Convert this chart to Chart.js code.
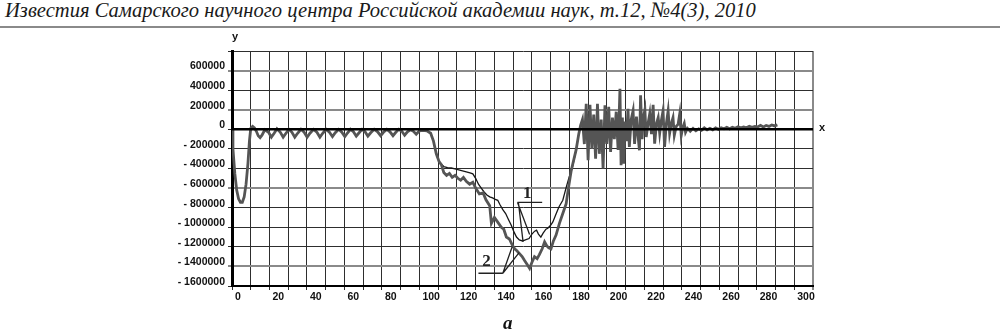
<!DOCTYPE html>
<html>
<head>
<meta charset="utf-8">
<script src="https://cdn.jsdelivr.net/npm/chart.js@4/dist/chart.umd.min.js"></script>
<style>
  html, body { margin: 0; padding: 0; background: #fff; }
  body { width: 1000px; height: 335px; position: relative; overflow: hidden; }
  #hdr { position: absolute; left: 5px; top: -3px; font-family: "Liberation Serif", serif; font-style: italic; font-size: 22px; color: #1a1a1a; white-space: nowrap; transform: scaleX(0.935); transform-origin: 0 0; }
  #rule { position: absolute; left: 0; top: 26px; width: 1000px; height: 2px; background: #8a8a8a; }
  #cap { position: absolute; left: 503px; top: 312px; font-family: "Liberation Serif", serif; font-style: italic; font-weight: bold; font-size: 19px; color: #111; }
  canvas { position: absolute; left: 0; top: 0; }
</style>
</head>
<body>
<div id="hdr">Известия Самарского научного центра Российской академии наук, т.12, №4(3), 2010</div>
<div id="rule"></div>
<canvas id="c" width="1000" height="335"></canvas>
<div id="cap">a</div>
<script>
// ---- data ----
const xTickLabels = [0, 20, 40, 60, 80, 100, 120, 140, 160, 180, 200, 220, 240, 260, 280, 300];
const yTickValues = [600000, 400000, 200000, 0, -200000, -400000, -600000, -800000, -1000000, -1200000, -1400000, -1600000];

// curve 1 (thin dark line)
const curve1X = [109, 110.5, 111.7, 113, 115, 117, 119, 121, 123, 125, 127, 128.5, 130, 131.5, 133, 134.5, 136, 137.5, 139, 140.5, 141.8, 143, 144.5, 146, 147.5, 149, 150.5, 151.8, 153.3, 155, 156.5, 158.5, 160, 161.5, 162.5, 163.5, 164.8, 166, 167.5, 168.5, 170, 171.2, 173, 174.5, 176.5, 178.5, 180, 181.5, 183.6, 185];
const curve1Y = [-250000, -330000, -355000, -380000, -390000, -395000, -405000, -415000, -425000, -435000, -445000, -455000, -500000, -560000, -600000, -640000, -670000, -690000, -700000, -715000, -725000, -770000, -820000, -860000, -920000, -980000, -1050000, -1100000, -1130000, -1140000, -1130000, -1115000, -1070000, -1040000, -1030000, -1070000, -1100000, -1060000, -1020000, -1010000, -980000, -946000, -860000, -790000, -724000, -580000, -480000, -400000, -214000, -50000];

// curve 2 (thick grey line)
const curve2X = [0, 0.5, 1.5, 2.5, 3.5, 4.5, 5.5, 6.5, 7.5, 8.5, 9.3, 10, 11, 12, 13, 14, 15, 16, 17.5,
  19.5, 21, 22.5, 24, 25.8, 27.3, 28.8, 30.4, 32, 33.5, 35, 36.8, 38.5, 40.1, 41.6, 43.5, 45.3, 46.9, 48.4, 50.2,
  52, 53.6, 55.1, 56.9, 58.6, 60.2, 61.7, 63.2, 64.8, 66.3, 67.8, 69.4, 71, 72.5, 74, 75.9, 77.7, 79.3, 80.8, 82.6,
  84.3, 85.9, 87.4, 89, 90.6, 92.1, 93.6, 95.2, 96.8, 98.3, 100, 102, 104, 106, 107.5, 109, 110.5, 111.7, 113,
  114.5, 116, 117.5, 119, 120.5, 122, 123.5, 125, 126.8, 128.5, 130, 132, 134, 135.5, 137.5, 138.4, 140, 141.5,
  143.7, 145, 146.4, 148, 149.5, 150.8, 152, 153.4, 154.8, 156.1, 157.5, 158.8, 160, 161.4, 162.8, 164, 165.5,
  166.8, 168, 169, 170.2, 171.5, 172.9, 174.7, 176.5, 178.3, 179.5, 181, 183.6, 185, 186, 187,
  188, 189, 190, 191, 192, 193, 194, 195, 196, 197, 198, 199, 200, 201, 202, 203, 204, 205, 206,
  207, 207.6, 208.3, 209, 209.7, 210.4, 211.3, 212, 213, 214, 214.8, 215.8, 216.6, 217.4, 218, 218.8, 219.5,
  220.3, 221, 222, 222.9, 223.8, 224.7, 225.5, 226.5, 227.4, 228.2, 229, 230, 230.8, 231.7, 232.7, 233.5,
  234.4, 235.3, 236, 237, 238, 238.9, 239.7, 240.5, 241.3, 242, 243, 244.5, 246, 247.5, 249, 250.5, 252,
  253.5, 255, 256.5, 258, 259.5, 261, 262.5, 264, 265.5, 267, 268.5, 270, 271.5, 273, 274.5, 276, 277.5,
  279, 280.5, 282, 283.5, 285, 286.5, 288, 289.5, 291];
const curve2Y = [0, -200000, -450000, -620000, -710000, -745000, -745000, -690000, -560000, -350000, -120000, 10000, 30000, 15000, -20000, -65000, -85000, -60000, -5000,
  -30000, -80000, -40000, 5000, -30000, -80000, -40000, 0, -30000, -80000, -40000, 0, -30000, -80000, -40000, 0, -30000, -80000, -40000, 0,
  -30000, -75000, -35000, 0, -30000, -75000, -35000, 0, -25000, -70000, -35000, 0, -25000, -70000, -35000, 0, -25000, -65000, -30000, 0,
  -25000, -65000, -30000, 0, -20000, -60000, -25000, -5000, -20000, -50000, -15000, -10000, -15000, -40000, -120000, -250000, -330000, -360000, -440000,
  -470000, -450000, -490000, -470000, -500000, -520000, -490000, -530000, -560000, -540000, -600000, -660000, -650000, -720000, -780000, -960000, -900000, -940000,
  -1000000, -1020000, -1100000, -1120000, -1180000, -1220000, -1240000, -1270000, -1300000, -1340000, -1380000, -1420000, -1360000, -1300000, -1320000, -1280000, -1220000,
  -1150000, -1190000, -1210000, -1220000, -1140000, -1080000, -960000, -860000, -760000, -600000, -420000, -210000, -50000, 40000, 100000,
  -150000, 260000, -316000, 250000, -200000, 150000, -300000, 260000, -250000, 100000, -400000, 245000, -150000, 230000, -230000, 120000, -100000, 180000, -210000,
  415000, -367000, 120000, -350000, 80000, -120000, 210000, -180000, 100000, 190000, -150000, 130000, -60000, -214000, 347000, -100000, 120000,
  200000, -78000, 60000, 160000, -50000, 250000, -146000, 60000, 120000, -40000, 80000, 190000, -180000, 50000, 190000, -40000,
  60000, 120000, -61000, 30000, 50000, 160000, -61000, 20000, 60000, -30000, 10000, -20000, 10000, -15000, 5000, -10000, 15000,
  -5000, 10000, -5000, 15000, 0, 15000, 5000, 20000, 5000, 20000, 10000, 25000, 15000, 25000, 15000, 30000, 20000,
  30000, 25000, 40000, 25000, 40000, 30000, 45000, 35000, 45000];

// annotation labels (data coordinates)
const label1 = { text: '1', x: 157.5, y: -660000, lineX: [152.3, 165.5], lineY: -745000, leaders: [[152.3, -745000, 158.8, -1075000], [152.8, -745000, 155.3, -1150000]] };
const label2 = { text: '2', x: 135.8, y: -1350000, lineX: [131.5, 144.5], lineY: -1470000, leaders: [[144.5, -1470000, 149.5, -1200000], [144.5, -1470000, 153.2, -1260000]] };

const pts = (xs, ys) => xs.map((x, i) => ({ x, y: ys[i] }));

const greyY = new Set([600000, 200000, -600000, -1400000]);

const overlay = {
  id: 'overlay',
  afterDraw(chart) {
    const { ctx, chartArea, scales } = chart;
    const X = scales.x, Y = scales.y;
    ctx.save();
    // zero line
    ctx.strokeStyle = '#000';
    ctx.lineWidth = 2.5;
    ctx.beginPath();
    ctx.moveTo(chartArea.left, Y.getPixelForValue(0));
    ctx.lineTo(chartArea.right, Y.getPixelForValue(0));
    ctx.stroke();
    // axis letters
    ctx.fillStyle = '#111';
    ctx.font = 'bold 11px "Liberation Sans", Arial, sans-serif';
    ctx.textAlign = 'center';
    ctx.textBaseline = 'middle';
    ctx.fillText('y', chartArea.left + 3, chartArea.top - 14);
    ctx.fillText('x', chartArea.right + 9, Y.getPixelForValue(0) - 1);
    // curve labels
    ctx.font = 'bold 17px "Liberation Serif", serif';
    ctx.fillStyle = '#222';
    ctx.strokeStyle = '#222';
    ctx.lineWidth = 1.3;
    for (const L of [label1, label2]) {
      ctx.fillText(L.text, X.getPixelForValue(L.x), Y.getPixelForValue(L.y));
      ctx.beginPath();
      ctx.moveTo(X.getPixelForValue(L.lineX[0]), Y.getPixelForValue(L.lineY));
      ctx.lineTo(X.getPixelForValue(L.lineX[1]), Y.getPixelForValue(L.lineY));
      for (const s of L.leaders) {
        ctx.moveTo(X.getPixelForValue(s[0]), Y.getPixelForValue(s[1]));
        ctx.lineTo(X.getPixelForValue(s[2]), Y.getPixelForValue(s[3]));
      }
      ctx.stroke();
    }
    ctx.restore();
  }
};

new Chart(document.getElementById('c'), {
  type: 'line',
  data: {
    datasets: [
      { label: '2', data: pts(curve2X, curve2Y), borderColor: '#555', borderWidth: 2.8, pointRadius: 0, tension: 0, fill: false },
      { label: '1', data: pts(curve1X, curve1Y), borderColor: '#161616', borderWidth: 1.3, pointRadius: 0, tension: 0, fill: false }
    ]
  },
  options: {
    responsive: false,
    animation: false,
    devicePixelRatio: 1,
    layout: { padding: { top: 51, right: 187, left: 0, bottom: 0 } },
    plugins: { legend: { display: false }, tooltip: { enabled: false } },
    scales: {
      x: {
        type: 'linear',
        min: 0, max: 310,
        afterFit(s) { s.height = 49; },
        border: { display: true, color: '#000', width: 2 },
        grid: {
          color: (c) => c.tick && c.tick.value === 310 ? '#8a8a8a' : '#2e2e2e',
          lineWidth: (c) => c.tick && c.tick.value === 310 ? 2 : 1,
          tickLength: 4,
          drawTicks: true
        },
        ticks: {
          stepSize: 10,
          autoSkip: false,
          maxRotation: 0, minRotation: 0,
          align: 'start',
          labelOffset: 3,
          padding: 1,
          color: '#111',
          font: { family: '"Liberation Sans", Arial, sans-serif', size: 10.5, weight: 'bold' },
          callback: (v) => xTickLabels.includes(v) ? String(v) : ''
        }
      },
      y: {
        type: 'linear',
        min: -1600000, max: 800000,
        afterFit(s) { s.width = 232; },
        border: { display: true, color: '#000', width: 3 },
        grid: {
          color: (c) => c.tick && greyY.has(c.tick.value) ? '#8a8a8a' : '#2e2e2e',
          lineWidth: (c) => c.tick && greyY.has(c.tick.value) ? 2 : 1,
          tickLength: 4,
          drawTicks: true
        },
        ticks: {
          stepSize: 200000,
          autoSkip: false,
          labelOffset: -4,
          padding: 3,
          color: '#111',
          font: { family: '"Liberation Sans", Arial, sans-serif', size: 10.5, weight: 'bold' },
          callback: (v) => yTickValues.includes(v) ? (v < 0 ? '- ' + (-v) : String(v)) : ''
        }
      }
    }
  },
  plugins: [overlay]
});
</script>
</body>
</html>
